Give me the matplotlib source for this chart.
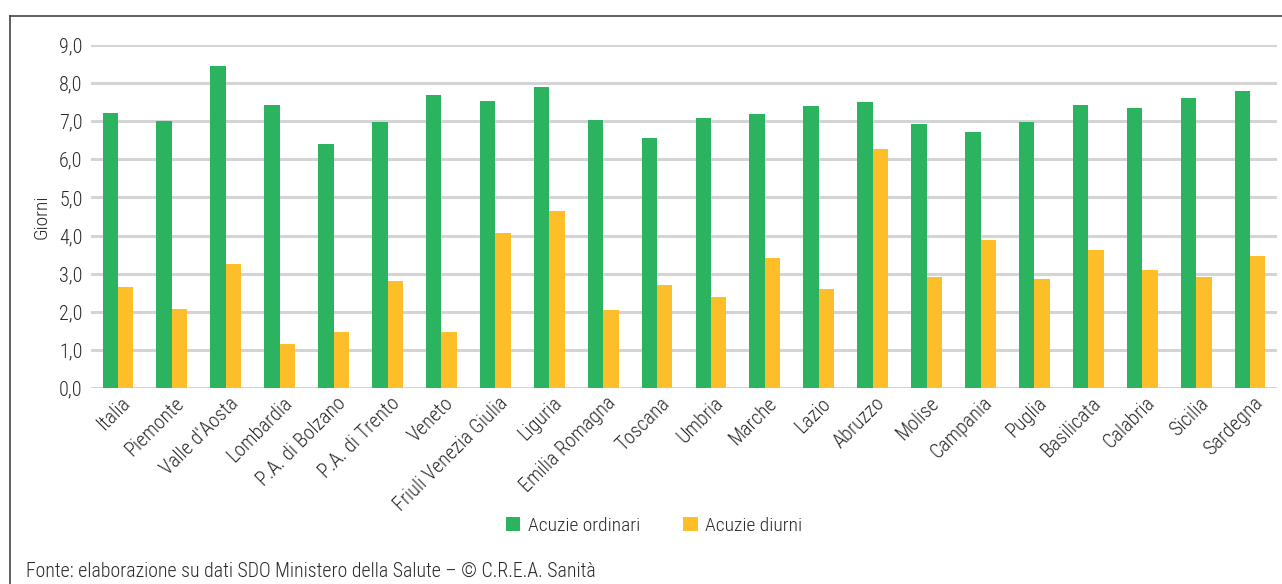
import matplotlib.pyplot as plt
from matplotlib import font_manager
import numpy as np

# Data
regioni = ['Italia', 'Piemonte', "Valle d'Aosta", 'Lombardia', 'P.A. di Bolzano',
           'P.A. di Trento', 'Veneto', 'Friuli Venezia Giulia', 'Liguria',
           'Emilia Romagna', 'Toscana', 'Umbria', 'Marche', 'Lazio', 'Abruzzo',
           'Molise', 'Campania', 'Puglia', 'Basilicata', 'Calabria', 'Sicilia',
           'Sardegna']
ordinari = [7.22, 7.01, 8.45, 7.43, 6.41, 6.98, 7.69, 7.53, 7.90, 7.03, 6.56,
            7.09, 7.19, 7.40, 7.50, 6.93, 6.72, 6.98, 7.43, 7.35, 7.61, 7.80]
diurni = [2.64, 2.07, 3.25, 1.16, 1.47, 2.80, 1.47, 4.07, 4.65, 2.04, 2.70,
          2.39, 3.41, 2.60, 6.27, 2.91, 3.88, 2.86, 3.62, 3.10, 2.91, 3.46]
yticks = np.arange(0, 9.5, 1.0)

# pick a narrow font if one is around
fonts = font_manager.fontManager.ttflist
names = {f.name for f in fonts}
stretch = 'normal'
family = 'Liberation Sans'
for cand in ['Liberation Sans Narrow', 'Roboto Condensed', 'Open Sans Condensed']:
    if cand in names:
        family = cand
        break
else:
    if any(f.name == 'DejaVu Sans' and f.stretch == 'condensed' for f in fonts):
        family = 'DejaVu Sans'
        stretch = 'condensed'
plt.rcParams['font.family'] = [family, 'DejaVu Sans']
plt.rcParams['font.stretch'] = stretch
weight = 'normal'
if any(f.name == family and f.weight in (300, 'light') for f in fonts):
    weight = 'light'
plt.rcParams['font.weight'] = weight
plt.rcParams['axes.labelweight'] = weight

green = '#2BB35F'
yellow = '#FDBE2A'
txt = '#2a2a2a'

fig = plt.figure(figsize=(12.82, 5.84), dpi=100)
ax = fig.add_axes([91 / 1282, 1 - 388 / 584, 1186 / 1282, 343 / 584])

x = np.arange(len(regioni))
w = 0.285
ax.bar(x - w / 2, ordinari, w, color=green, label='Acuzie ordinari', zorder=3)
ax.bar(x + w / 2, diurni, w, color=yellow, label='Acuzie diurni', zorder=3)

ax.set_xlim(-0.5, len(regioni) - 0.5)
ax.set_ylim(0, 9.0)
ax.set_yticks(yticks)
ax.set_yticklabels([f'{v:.1f}'.replace('.', ',') for v in yticks], fontsize=14.5, color=txt)
ax.yaxis.grid(True, color='#d4d4d4', linewidth=2.2, zorder=0)
ax.set_axisbelow(True)
ax.tick_params(axis='both', length=0)
ax.tick_params(axis='y', pad=6)
for s in ax.spines.values():
    s.set_visible(False)

ax.set_xticks(x + 0.05)
ax.set_xticklabels(regioni, rotation=45, ha='right', rotation_mode='anchor',
                   fontsize=14.5, color=txt)
ax.tick_params(axis='x', pad=4)

ax.set_ylabel('Giorni', fontsize=14, color=txt, labelpad=6, fontweight=weight)

fig.legend(loc='center', bbox_to_anchor=(654 / 1282, 1 - 526 / 584), ncol=2,
           frameon=False, fontsize=14, handlelength=0.75, handleheight=0.75,
           handletextpad=0.4, columnspacing=2.2, labelcolor=txt)

fig.text(26 / 1282, 1 - 571 / 584,
         'Fonte: elaborazione su dati SDO Ministero della Salute \u2013 \u00a9 C.R.E.A. Sanità',
         fontsize=14.3, color=txt, va='center')

# Frame lines (top and left)
fig.add_artist(plt.Line2D([10 / 1282, 1], [1 - 16 / 584, 1 - 16 / 584],
                          transform=fig.transFigure, color='#444444', linewidth=1.2))
fig.add_artist(plt.Line2D([10 / 1282, 10 / 1282], [0, 1 - 16 / 584],
                          transform=fig.transFigure, color='#444444', linewidth=1.2))

fig.savefig('out.png', dpi=100)
